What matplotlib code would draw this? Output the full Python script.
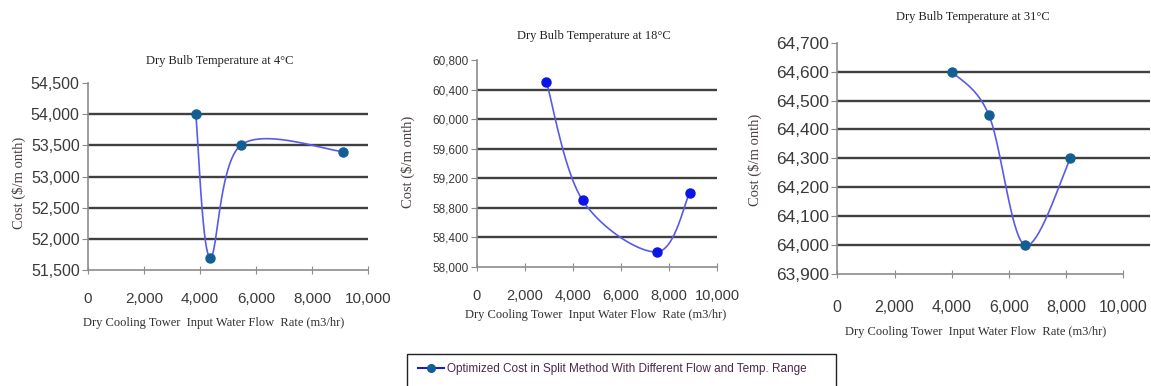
import numpy as np
import matplotlib
matplotlib.use("Agg")
import matplotlib.pyplot as plt
from matplotlib.patches import Rectangle
from matplotlib.lines import Line2D
from matplotlib.ticker import FuncFormatter

# ---------------- data ----------------
titles = ["Dry Bulb Temperature at 4\u00b0C",
          "Dry Bulb Temperature at 18\u00b0C",
          "Dry Bulb Temperature at 31\u00b0C"]
flow_4 = [3850, 4350, 5450, 9100]
cost_4 = [54000, 51700, 53500, 53400]
flow_18 = [2900, 4400, 7500, 8850]
cost_18 = [60500, 58900, 58200, 59000]
flow_31 = [4000, 5300, 6550, 8150]
cost_31 = [64600, 64450, 64000, 64300]
x_ticks = [0, 2000, 4000, 6000, 8000, 10000]
y_ranges = [(51500, 54500, 500), (58000, 60800, 400), (63900, 64700, 100)]
xlabel = "Dry Cooling Tower  Input Water Flow  Rate (m3/hr)"
ylabel = "Cost ($/m onth)"
legend_label = "Optimized Cost in Split Method With Different Flow and Temp. Range"

W, H = 1151, 386
fig = plt.figure(figsize=(W / 100, H / 100), dpi=100)
fig.patch.set_facecolor("white")

def px(x, y):
    return x / W, 1 - y / H

# axes boxes in pixels: left, right(of xlim), top, bottom
boxes = [(88, 368, 83, 270), (476.7, 717.3, 60, 266.7), (837.3, 1150, 42.7, 274)]
xmaxs = [10000, 10000, 10000 * (1150 - 837.3) / (1123.3 - 837.3)]
ytick_fs = [11.5, 8.5, 12.5]
xtick_fs = [11, 10.5, 11.5]
xpads = [13, 13, 16]
title_pos = [(220, 61), (594, 36), (973, 17)]
xlabel_pos = [(214, 323), (596, 315), (976, 332)]
ylabel_pos = [(19, 183), (408, 162), (755, 160)]
marker_colors = ["#135f93", "#0a14e6", "#135f93"]

series = [(flow_4, cost_4), (flow_18, cost_18), (flow_31, cost_31)]

serif = ["Liberation Serif", "DejaVu Serif"]
sans = ["Liberation Sans", "DejaVu Sans"]

def smooth(ax, xs, ys, n=60):
    # Excel-style smoothed line (Catmull-Rom Bezier) in display space
    pts = ax.transData.transform(np.column_stack([xs, ys]))
    P = np.vstack([pts[0], pts, pts[-1]])
    out = []
    for i in range(1, len(P) - 2):
        p0, p1, p2, p3 = P[i - 1], P[i], P[i + 1], P[i + 2]
        c1 = p1 + (p2 - p0) / 6.0
        c2 = p2 - (p3 - p1) / 6.0
        t = np.linspace(0, 1, n)[:, None]
        seg = ((1 - t) ** 3) * p1 + 3 * ((1 - t) ** 2) * t * c1 + 3 * (1 - t) * t ** 2 * c2 + t ** 3 * p2
        out.append(seg)
    out = np.vstack(out)
    return ax.transData.inverted().transform(out)

fmt = FuncFormatter(lambda v, p: f"{int(round(v)):,}")
for i in range(3):
    l, r, t, b = boxes[i]
    x0, y0 = px(l, b)
    ax = fig.add_axes([x0, y0, (r - l) / W, (b - t) / H])
    ymin, ymax, ystep = y_ranges[i]
    ax.set_xlim(0, xmaxs[i])
    ax.set_ylim(ymin, ymax)
    ax.set_xticks(x_ticks)
    ax.set_yticks(np.arange(ymin, ymax + 1, ystep))
    ax.xaxis.set_major_formatter(fmt)
    ax.yaxis.set_major_formatter(fmt)
    for s in ["top", "right"]:
        ax.spines[s].set_visible(False)
    for s in ["left", "bottom"]:
        ax.spines[s].set_color("#8c8c8c")
        ax.spines[s].set_linewidth(1.2)
    ax.spines["bottom"].set_bounds(0, 10000)
    ax.tick_params(axis="y", direction="out", length=4, color="#8c8c8c",
                   labelsize=ytick_fs[i], labelcolor="#3a3a3a", pad=2)
    ax.tick_params(axis="x", direction="inout", length=6, color="#8c8c8c",
                   labelsize=xtick_fs[i], labelcolor="#3a3a3a", pad=xpads[i])
    for lab in ax.get_xticklabels() + ax.get_yticklabels():
        lab.set_family(sans)
    for yv in np.arange(ymin + ystep, ymax, ystep):
        ax.axhline(yv, color="#404040", lw=1.7, zorder=1)
    xs, ys = series[i]
    cur = smooth(ax, xs, ys)
    ax.plot(cur[:, 0], cur[:, 1], color="#5a5ae8", lw=1.2, zorder=2)
    ax.plot(xs, ys, linestyle="none", marker="o", markersize=6.5,
            markerfacecolor=marker_colors[i], markeredgecolor=marker_colors[i], zorder=3)
    tx, ty = px(*title_pos[i])
    fig.text(tx, ty, titles[i], ha="center", va="center", fontsize=9,
             family=serif, color="#222222")
    lx, ly = px(*xlabel_pos[i])
    fig.text(lx, ly, xlabel, ha="center", va="center", fontsize=9,
             family=serif, color="#303030")
    yx, yy = px(*ylabel_pos[i])
    fig.text(yx, yy, ylabel, ha="center", va="center", fontsize=10.5,
             family=serif, color="#4a4040", rotation=90)

# legend box
bx0, by0 = px(407, 392)
fig.patches.append(Rectangle((bx0, by0), (836 - 407) / W, (392 - 354) / H,
                             transform=fig.transFigure, fill=False,
                             edgecolor="#222222", lw=1.0, clip_on=False))
lh = Line2D([], [], color="#1a1ad0", lw=1.5, marker="o", markersize=5.5,
            markerfacecolor="#135f93", markeredgecolor="#135f93")
lgx, lgy = px(412, 369)
fig.legend([lh], [legend_label], loc="center left", bbox_to_anchor=(lgx, lgy),
           frameon=False, handlelength=2.2, handletextpad=0.3, borderpad=0,
           prop={"family": sans, "size": 8.5}, labelcolor="#4a2a4a")

fig.savefig("out.png", dpi=100)
